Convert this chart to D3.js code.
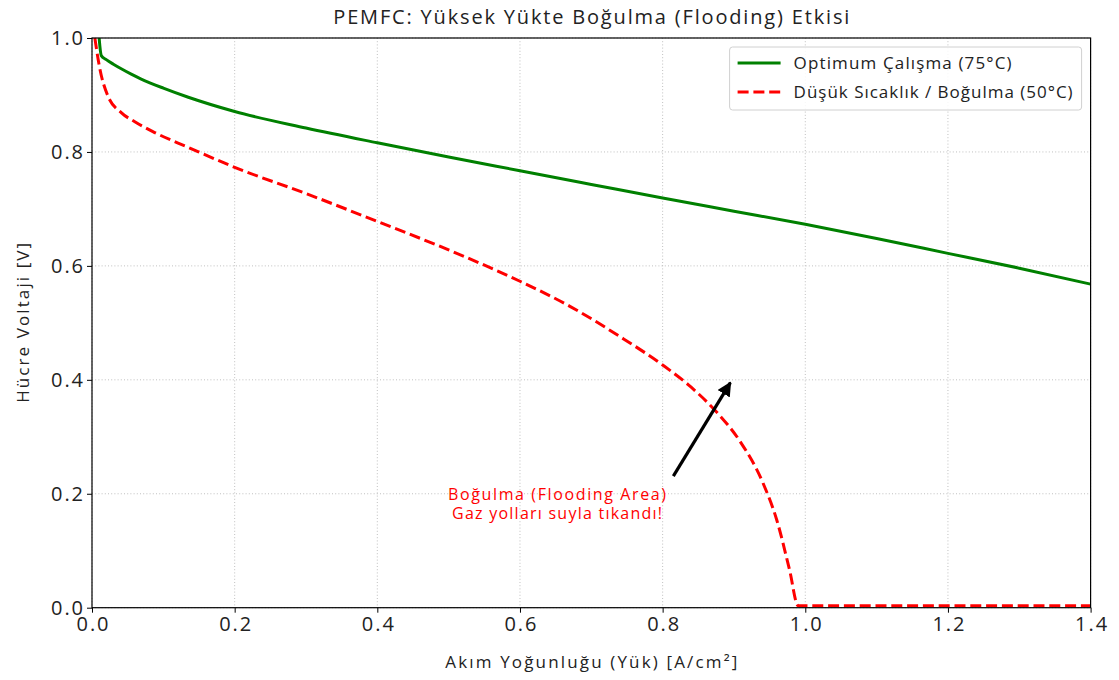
<!DOCTYPE html>
<html>
<head>
<meta charset="utf-8">
<script src="https://cdn.jsdelivr.net/npm/d3@7"></script>
<style>
  body { margin: 0; background: #fff; }
  svg { font-family: "Open Sans", Lato, sans-serif; }
</style>
</head>
<body>
<div id="chart"></div>
<script>
// values
var optimumX = [0.01, 0.013, 0.02, 0.03, 0.041, 0.055, 0.069, 0.1, 0.135, 0.2, 0.3, 0.4, 0.5, 0.6, 0.7, 0.8, 0.9, 1.0, 1.1, 1.2, 1.3, 1.4];
var optimumV = [1.0, 0.969, 0.962, 0.954, 0.946, 0.9365, 0.928, 0.912, 0.896, 0.871, 0.842, 0.816, 0.791, 0.767, 0.743, 0.719, 0.696, 0.673, 0.648, 0.622, 0.596, 0.568];

var floodX = [0.004, 0.011, 0.022, 0.041, 0.06, 0.088, 0.135, 0.2, 0.3, 0.4, 0.5, 0.6, 0.67, 0.74, 0.8, 0.84, 0.876, 0.908, 0.941, 0.96, 0.978, 0.99, 1.0, 1.4];
var floodV = [1.0, 0.946, 0.899, 0.869, 0.853, 0.834, 0.808, 0.773, 0.727, 0.678, 0.628, 0.573, 0.529, 0.476, 0.426, 0.387, 0.343, 0.293, 0.218, 0.154, 0.066, 0.0035, 0.0035, 0.0035];

var xTicks = [0.0, 0.2, 0.4, 0.6, 0.8, 1.0, 1.2, 1.4];
var yTicks = [0.0, 0.2, 0.4, 0.6, 0.8, 1.0];

var seriesNames = ["Optimum Çalışma (75°C)", "Düşük Sıcaklık / Boğulma (50°C)"];
var noteLines = ["Boğulma (Flooding Area)", "Gaz yolları suyla tıkandı!"];
var arrowFrom = [0.815, 0.231], arrowTo = [0.895, 0.395];
var notePos = [0.652, 0.181];

var width = 1119, height = 680,
    margin = {top: 38, right: 28.4, bottom: 72.3, left: 92},
    innerWidth = width - margin.left - margin.right,
    innerHeight = height - margin.top - margin.bottom;

// stretch a text to the width it has in the reference
function fit(sel, w) {
  sel.attr("textLength", w).attr("lengthAdjust", "spacing");
}

var svg = d3.select("#chart").append("svg")
    .attr("width", width)
    .attr("height", height);

var x = d3.scaleLinear().domain([0, 1.4]).range([0, innerWidth]);
var y = d3.scaleLinear().domain([0, 1.0]).range([innerHeight, 0]);

var g = svg.append("g")
    .attr("transform", "translate(" + margin.left + "," + margin.top + ")");

g.append("defs").append("clipPath").attr("id", "clip")
  .append("rect").attr("width", innerWidth).attr("height", innerHeight);

// grid
g.append("g").selectAll("line").data(xTicks).enter().append("line")
    .attr("x1", d => x(d)).attr("x2", d => x(d))
    .attr("y1", 0).attr("y2", innerHeight)
    .attr("stroke", "#b0b0b0").attr("stroke-width", 0.8)
    .attr("stroke-dasharray", "1,2.2");
g.append("g").selectAll("line").data(yTicks).enter().append("line")
    .attr("y1", d => y(d)).attr("y2", d => y(d))
    .attr("x1", 0).attr("x2", innerWidth)
    .attr("stroke", "#b0b0b0").attr("stroke-width", 0.8)
    .attr("stroke-dasharray", "1,2.2");

// lines
var line = d3.line()
    .x(d => x(d[0])).y(d => y(d[1]))
    .curve(d3.curveMonotoneX);

var plot = g.append("g").attr("clip-path", "url(#clip)");

plot.append("path")
    .datum(d3.zip(optimumX, optimumV))
    .attr("fill", "none")
    .attr("stroke", "green")
    .attr("stroke-width", 3)
    .attr("d", line);

plot.append("path")
    .datum(d3.zip(floodX, floodV))
    .attr("fill", "none")
    .attr("stroke", "red")
    .attr("stroke-width", 3)
    .attr("stroke-dasharray", "11,4.8")
    .attr("d", line);

// axes
var xAxis = g.append("g")
    .attr("transform", "translate(0," + innerHeight + ")")
    .call(d3.axisBottom(x).tickValues(xTicks).tickFormat(d3.format(".1f")).tickSize(5).tickPadding(4));
var yAxis = g.append("g")
    .call(d3.axisLeft(y).tickValues(yTicks).tickFormat(d3.format(".1f")).tickSize(5).tickPadding(4));

[xAxis, yAxis].forEach(function (a) {
  a.select(".domain").remove();
  a.selectAll("line").attr("stroke", "#000").attr("stroke-width", 1);
  a.selectAll("text").attr("font-size", "20px").attr("fill", "#222")
    .attr("font-family", "\"Open Sans\", sans-serif");
  fit(a.selectAll("text"), 32);
});

// frame
g.append("rect")
    .attr("width", innerWidth).attr("height", innerHeight)
    .attr("fill", "none").attr("stroke", "#000").attr("stroke-width", 1.2);

// annotation
svg.append("defs").append("marker")
    .attr("id", "head")
    .attr("viewBox", "0 0 10 10")
    .attr("refX", 9).attr("refY", 5)
    .attr("markerWidth", 4.5).attr("markerHeight", 4.5)
    .attr("markerUnits", "strokeWidth")
    .attr("orient", "auto")
  .append("path").attr("d", "M0,0 L10,5 L0,10 z").attr("fill", "#000");

g.append("line")
    .attr("x1", x(arrowFrom[0])).attr("y1", y(arrowFrom[1]))
    .attr("x2", x(arrowTo[0])).attr("y2", y(arrowTo[1]))
    .attr("stroke", "#000").attr("stroke-width", 3.2)
    .attr("marker-end", "url(#head)");

var noteWidths = [218, 210];
var note = g.append("text")
    .attr("x", x(notePos[0])).attr("y", y(notePos[1]))
    .attr("text-anchor", "middle")
    .attr("fill", "red")
    .attr("font-size", "16px");
note.selectAll("tspan").data(noteLines).enter().append("tspan")
    .attr("x", x(notePos[0]))
    .attr("dy", (d, i) => i === 0 ? "-0.3em" : "1.2em")
    .attr("textLength", (d, i) => noteWidths[i])
    .attr("lengthAdjust", "spacing")
    .text(d => d);

// legend
var legendWidths = [218, 279];
var legend = g.append("g").attr("transform", "translate(" + (innerWidth - 361) + ",9)");
legend.append("rect")
    .attr("width", 352).attr("height", 63).attr("rx", 3)
    .attr("fill", "#fff").attr("fill-opacity", 0.85)
    .attr("stroke", "#d0d0d0");
var items = legend.selectAll("g.item").data(seriesNames).enter().append("g")
    .attr("transform", (d, i) => "translate(8," + (16 + i * 29) + ")");
items.append("line")
    .attr("x1", 0).attr("x2", 43).attr("y1", 0).attr("y2", 0)
    .attr("stroke", (d, i) => i === 0 ? "green" : "red")
    .attr("stroke-width", 3)
    .attr("stroke-dasharray", (d, i) => i === 0 ? null : "11,4.8");
items.append("text")
    .attr("x", 56).attr("y", 0).attr("dy", "0.35em")
    .attr("font-size", "17px").attr("fill", "#222")
    .attr("textLength", (d, i) => legendWidths[i])
    .attr("lengthAdjust", "spacing")
    .text(d => d);

// title and labels
svg.append("text")
    .attr("x", margin.left + innerWidth / 2).attr("y", 24)
    .attr("text-anchor", "middle").attr("font-size", "20px").attr("fill", "#222")
    .call(fit, 516)
    .text("PEMFC: Yüksek Yükte Boğulma (Flooding) Etkisi");

svg.append("text")
    .attr("x", margin.left + innerWidth / 2).attr("y", 668)
    .attr("text-anchor", "middle").attr("font-size", "17px").attr("fill", "#222")
    .call(fit, 292)
    .text("Akım Yoğunluğu (Yük) [A/cm²]");

svg.append("text")
    .attr("transform", "translate(29," + (margin.top + innerHeight / 2) + ") rotate(-90)")
    .attr("text-anchor", "middle").attr("font-size", "17px").attr("fill", "#222")
    .call(fit, 160)
    .text("Hücre Voltaji [V]");
</script>
</body>
</html>
